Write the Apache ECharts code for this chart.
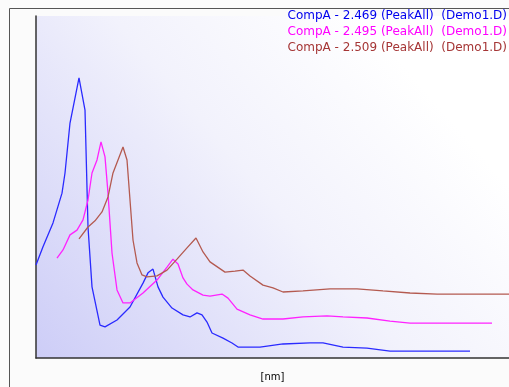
<!DOCTYPE html>
<html>
<head>
<meta charset="utf-8">
<script src="https://cdn.jsdelivr.net/npm/echarts@6/dist/echarts.min.js"></script>
<style>
  html, body { margin: 0; padding: 0; background: #fbfbfb; }
  #chart { width: 509px; height: 387px; }
</style>
</head>
<body>
<div id="chart"></div>
<script>
// spectra: [nm, intensity %]
const seriesNames = [
  'CompA - 2.469 (PeakAll)  (Demo1.D)',
  'CompA - 2.495 (PeakAll)  (Demo1.D)',
  'CompA - 2.509 (PeakAll)  (Demo1.D)'
]
const blueData = [
  [190, 27.2], [193.5, 32.5], [198.5, 39.5], [203, 48.2], [204.5, 54.1], [207, 68.7],
  [211.5, 81.9], [214.5, 72.5], [216, 38.3], [218, 20.8], [222, 9.6], [224.5, 9.1],
  [230.5, 11.1], [237, 14.9], [243.5, 21.9], [246, 24.9], [248.5, 26.0], [251, 20.8],
  [253.5, 17.8], [258, 14.6], [263.5, 12.6], [267, 12.0], [270.5, 13.2], [273, 12.6],
  [275.5, 10.5], [278, 7.3], [283.5, 5.8], [288, 4.4], [291, 3.2], [302, 3.2],
  [313.5, 4.1], [327, 4.4], [333.5, 4.4], [343.5, 3.2], [355.5, 2.9], [367, 2.0],
  [380.5, 2.0], [407, 2.0]
]
const magentaData = [
  [200.5, 29.2], [203.5, 31.6], [207, 36.0], [210.5, 37.4], [213.5, 40.4], [216, 46.2],
  [218, 54.1], [220.5, 57.9], [222.5, 63.2], [224.5, 58.8], [226, 48.2], [228, 30.7],
  [230.5, 19.9], [233.5, 16.1], [237, 16.1], [243.5, 19.0], [250.5, 22.8], [255.5, 26.6],
  [258.5, 28.9], [261, 27.5], [263.5, 23.4], [265.5, 21.6], [268.5, 19.9], [273.5, 18.4],
  [277, 18.1], [283, 18.7], [286, 17.5], [290.5, 14.3], [297, 12.6], [303.5, 11.4],
  [313.5, 11.4], [323.5, 12.0], [335.5, 12.3], [343.5, 12.0], [355.5, 11.7], [367, 10.8],
  [377, 10.2], [418, 10.2]
]
const brownData = [
  [211.5, 34.8], [216, 38.3], [219.5, 40.1], [223, 42.7], [226, 47.1], [228.5, 54.1],
  [231, 57.9], [233.5, 61.7], [235.5, 57.9], [237, 46.2], [238.5, 34.5], [240.5, 27.8],
  [243, 24.3], [245.5, 23.7], [250.5, 24.0], [255.5, 25.7], [260.5, 28.9], [265.5, 32.2],
  [270, 35.1], [273.5, 31.0], [277, 28.1], [284.5, 25.1], [289.5, 25.4], [293.5, 25.7],
  [297, 24.0], [303.5, 21.3], [308.5, 20.5], [313.5, 19.3], [323.5, 19.6], [337, 20.2],
  [350.5, 20.2], [363.5, 19.6], [377, 19.0], [390.5, 18.7], [426.5, 18.7]
]
const lineColors = ['#2a2aff', '#ff22ff', '#b45a50']
const legendColors = ['#0000ee', '#ff00ff', '#a53535']

const myChart = echarts.init(document.getElementById('chart'))
const allData = [blueData, magentaData, brownData]

const option = {
  backgroundColor: '#fbfbfb',
  animation: false,
  graphic: [
    {
      type: 'rect',
      left: 7, top: 6,
      shape: { width: 520, height: 400 },
      style: { fill: 'none', stroke: '#555', lineWidth: 1 },
      z: -1
    }
  ],
  legend: {
    orient: 'vertical',
    right: 2,
    top: 9,
    itemWidth: 0,
    itemHeight: 0,
    itemGap: 2,
    padding: 0,
    textStyle: { fontFamily: 'DejaVu Sans', fontSize: 12, lineHeight: 14 },
    data: seriesNames.map((n, i) => ({
      name: n,
      icon: 'none',
      textStyle: { color: legendColors[i] }
    }))
  },
  grid: {
    left: 36,
    top: 16,
    right: 0,
    bottom: 29,
    show: true,
    borderWidth: 0,
    backgroundColor: {
      type: 'linear',
      x: 0, y: 1, x2: 0.75, y2: 0.1,
      colorStops: [
        { offset: 0, color: '#cdcdf7' },
        { offset: 0.6, color: '#f2f2fc' },
        { offset: 1, color: '#ffffff' }
      ]
    }
  },
  xAxis: {
    type: 'value',
    min: 190,
    max: 426.5,
    name: '[nm]',
    nameLocation: 'middle',
    nameGap: 14,
    nameTextStyle: { fontFamily: 'DejaVu Sans', fontSize: 10, color: '#000' },
    axisLine: { lineStyle: { color: '#333', width: 1.5 } },
    axisTick: { show: false },
    axisLabel: { show: false },
    splitLine: { show: false }
  },
  yAxis: {
    type: 'value',
    min: 0,
    max: 100,
    axisLine: { show: true, lineStyle: { color: '#333', width: 1.5 } },
    axisTick: { show: false },
    axisLabel: { show: false },
    splitLine: { show: false }
  },
  series: allData.map((d, i) => ({
    name: seriesNames[i],
    type: 'line',
    data: d,
    showSymbol: false,
    smooth: false,
    lineStyle: { color: lineColors[i], width: 1.3 },
    itemStyle: { color: lineColors[i] }
  }))
}
option && myChart.setOption(option)
</script>
</body>
</html>
